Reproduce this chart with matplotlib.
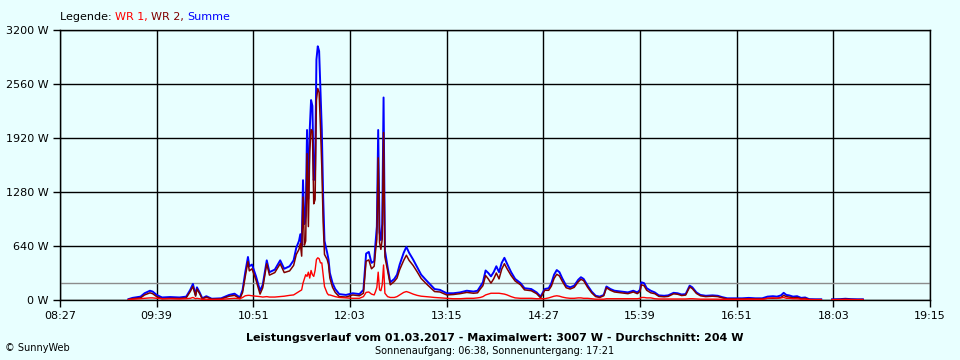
import numpy as np
import matplotlib.pyplot as plt

# time of day, Summe (W) and WR 1 (W); WR 2 = Summe - WR 1
times = [
    "09:18", "09:21", "09:27", "09:30", "09:34", "09:36", "09:39", "09:43", "09:49", "09:56",
    "10:01", "10:04", "10:06", "10:08", "10:09", "10:11", "10:13", "10:16", "10:20", "10:27",
    "10:33", "10:37", "10:41", "10:43", "10:45", "10:47", "10:48", "10:50", "10:53", "10:56",
    "10:58", "11:01", "11:03", "11:07", "11:11", "11:14", "11:18", "11:21", "11:23", "11:25",
    "11:26", "11:27", "11:28", "11:29", "11:30", "11:31", "11:32", "11:33", "11:34", "11:35",
    "11:36", "11:37", "11:38", "11:39", "11:40", "11:41", "11:42", "11:43", "11:44", "11:45",
    "11:46", "11:47", "11:48", "11:50", "11:52", "11:55", "12:00", "12:05", "12:10", "12:13",
    "12:15", "12:17", "12:19", "12:21", "12:22", "12:23", "12:24", "12:25", "12:26", "12:27",
    "12:28", "12:29", "12:31", "12:33", "12:36", "12:38", "12:40", "12:43", "12:45", "12:47",
    "12:50", "12:53", "12:56", "13:00", "13:03", "13:06", "13:10", "13:15", "13:20", "13:25",
    "13:30", "13:35", "13:38", "13:40", "13:42", "13:44", "13:46", "13:48", "13:50", "13:52",
    "13:54", "13:56", "13:58", "14:00", "14:03", "14:06", "14:10", "14:13", "14:18", "14:22",
    "14:25", "14:28", "14:31", "14:33", "14:35", "14:37", "14:39", "14:41", "14:44", "14:47",
    "14:50", "14:53", "14:55", "14:57", "15:00", "15:03", "15:06", "15:09", "15:12", "15:14",
    "15:17", "15:20", "15:25", "15:30", "15:34", "15:37", "15:39", "15:40", "15:42", "15:44",
    "15:47", "15:50", "15:53", "15:57", "16:00", "16:04", "16:07", "16:10", "16:13", "16:16",
    "16:18", "16:21", "16:24", "16:28", "16:33", "16:37", "16:40", "16:44", "16:50", "16:55",
    "17:00", "17:05", "17:10", "17:14", "17:18", "17:21", "17:24", "17:26", "17:28", "17:30",
    "17:33", "17:36", "17:39", "17:42", "17:45", "17:50", "17:54", "17:55", "18:02", "18:08",
    "18:12", "18:16", "18:21", "18:25",
]
summe = [
    10, 25, 40, 80, 110, 100, 60, 30, 35, 30,
    40, 120, 190, 60, 150, 90, 20, 45, 15, 20,
    60, 75, 30, 120, 330, 510, 400, 420, 280, 110,
    180, 470, 330, 360, 470, 370, 400, 470, 620, 700,
    780, 640, 1420, 900, 1000, 2015, 1200, 2015, 2370, 2300,
    1420, 1540, 2850, 3007, 2950, 2490, 2015, 1225, 700, 630,
    560, 480, 320, 200, 130, 70, 60, 80, 70, 120,
    550, 570, 440, 460, 675, 870, 2015, 800, 710, 900,
    2400, 590, 390, 210, 250, 300, 420, 560, 630, 560,
    480, 390, 300, 230, 180, 130, 120, 80, 80, 90,
    110, 100, 110, 160, 210, 350, 320, 280, 330, 400,
    330, 440, 500, 430, 330, 250, 200, 140, 130, 90,
    40, 130, 140, 200, 300, 355, 330, 260, 170, 150,
    170, 240, 270, 250, 170, 100, 50, 40, 60, 160,
    130, 110, 100, 90, 110, 90, 120, 210, 200, 140,
    110, 90, 55, 50, 55, 85, 80, 65, 70, 170,
    150, 90, 60, 50, 55, 50, 35, 20, 20, 20,
    25, 20, 20, 40, 45, 40, 55, 85, 60, 55,
    40, 45, 25, 30, 10, 8, 8, np.nan, 8, 10,
    15, 10, 8, 8,
]
wr1 = [
    5, 10, 15, 20, 25, 25, 20, 15, 15, 12,
    15, 20, 30, 15, 20, 15, 8, 10, 5, 8,
    15, 20, 15, 30, 50, 55, 55, 50, 45, 40,
    35, 40, 35, 35, 40, 45, 55, 60, 80, 100,
    110, 120, 200, 250, 300, 280, 330, 260, 350, 300,
    280, 350, 480, 500, 490, 440, 440, 300, 160, 120,
    80, 60, 60, 50, 40, 30, 25, 20, 20, 40,
    90, 95, 70, 60, 100, 150, 330, 120, 110, 180,
    415, 80, 40, 30, 30, 40, 60, 90, 100, 90,
    70, 55, 45, 40, 35, 30, 25, 20, 15, 15,
    20, 20, 25, 30, 40, 60, 70, 80, 80, 80,
    80, 75, 70, 60, 40, 25, 20, 20, 20, 15,
    15, 15, 25, 35, 45, 50, 45, 35, 25, 20,
    20, 25, 25, 20, 20, 15, 10, 10, 10, 15,
    15, 15, 15, 15, 15, 15, 20, 30, 30, 25,
    25, 15, 12, 12, 12, 12, 12, 12, 12, 15,
    15, 12, 10, 10, 10, 10, 8, 8, 8, 8,
    10, 8, 8, 20, 25, 20, 25, 30, 20, 20,
    15, 15, 10, 10, 5, 3, 3, np.nan, 3, 3,
    5, 3, 3, 2,
]

x_ticks = ["08:27", "09:39", "10:51", "12:03", "13:15", "14:27", "15:39", "16:51", "18:03", "19:15"]
y_ticks = [0, 640, 1280, 1920, 2560, 3200]
mittel = 204


def to_min(s):
    h, m = s.split(":")
    return int(h) * 60 + int(m)


t = np.array([to_min(s) for s in times])
summe = np.array(summe, dtype=float)
wr1 = np.array(wr1, dtype=float)
wr2 = summe - wr1

bg = "#e8ffff"
fig = plt.figure(figsize=(9.6, 3.6), dpi=100, facecolor=bg)
ax = fig.add_axes([60 / 960, 60 / 360, 870 / 960, 270 / 360], facecolor=bg)

xt = [to_min(s) for s in x_ticks]
ax.set_xlim(xt[0], xt[-1])
ax.set_ylim(0, 3200)
ax.set_xticks(xt)
ax.set_xticklabels(x_ticks)
ax.set_yticks(y_ticks)
ax.set_yticklabels([f"{v} W" for v in y_ticks])
ax.grid(True, color="black", linewidth=1)
ax.set_axisbelow(True)
for sp in ax.spines.values():
    sp.set_color("black")
    sp.set_linewidth(1)
ax.tick_params(length=5, width=1, color="black", labelsize=8, pad=3)

ax.axhline(mittel, color="#8c8c8c", linewidth=1, zorder=2)

ax.plot(t, summe, color="#0000ff", linewidth=1.4, zorder=3)
ax.plot(t, wr2, color="#800000", linewidth=1.1, zorder=4)
ax.plot(t, wr1, color="#ff0000", linewidth=1.0, zorder=5)

# legend line at the top
fs = 8
parts = [("Legende: ", "black"), ("WR 1, ", "#ff0000"), ("WR 2, ", "#800000"), ("Summe", "#0000ff")]
renderer = fig.canvas.get_renderer()
x0 = 60 / 960
for txt, col in parts:
    tx = fig.text(x0, 1 - 17 / 360, txt, color=col, fontsize=fs, va="center", ha="left")
    bb = tx.get_window_extent(renderer=renderer)
    x0 += bb.width / 960

fig.text(495 / 960, 1 - 338 / 360,
         "Leistungsverlauf vom 01.03.2017 - Maximalwert: 3007 W - Durchschnitt: 204 W",
         fontsize=8, fontweight="bold", ha="center", va="center")
fig.text(495 / 960, 1 - 351 / 360, "Sonnenaufgang: 06:38, Sonnenuntergang: 17:21",
         fontsize=7, ha="center", va="center")
fig.text(5 / 960, 1 - 348 / 360, "© SunnyWeb", fontsize=7, ha="left", va="center")

fig.savefig("out.png", dpi=100, facecolor=bg)
